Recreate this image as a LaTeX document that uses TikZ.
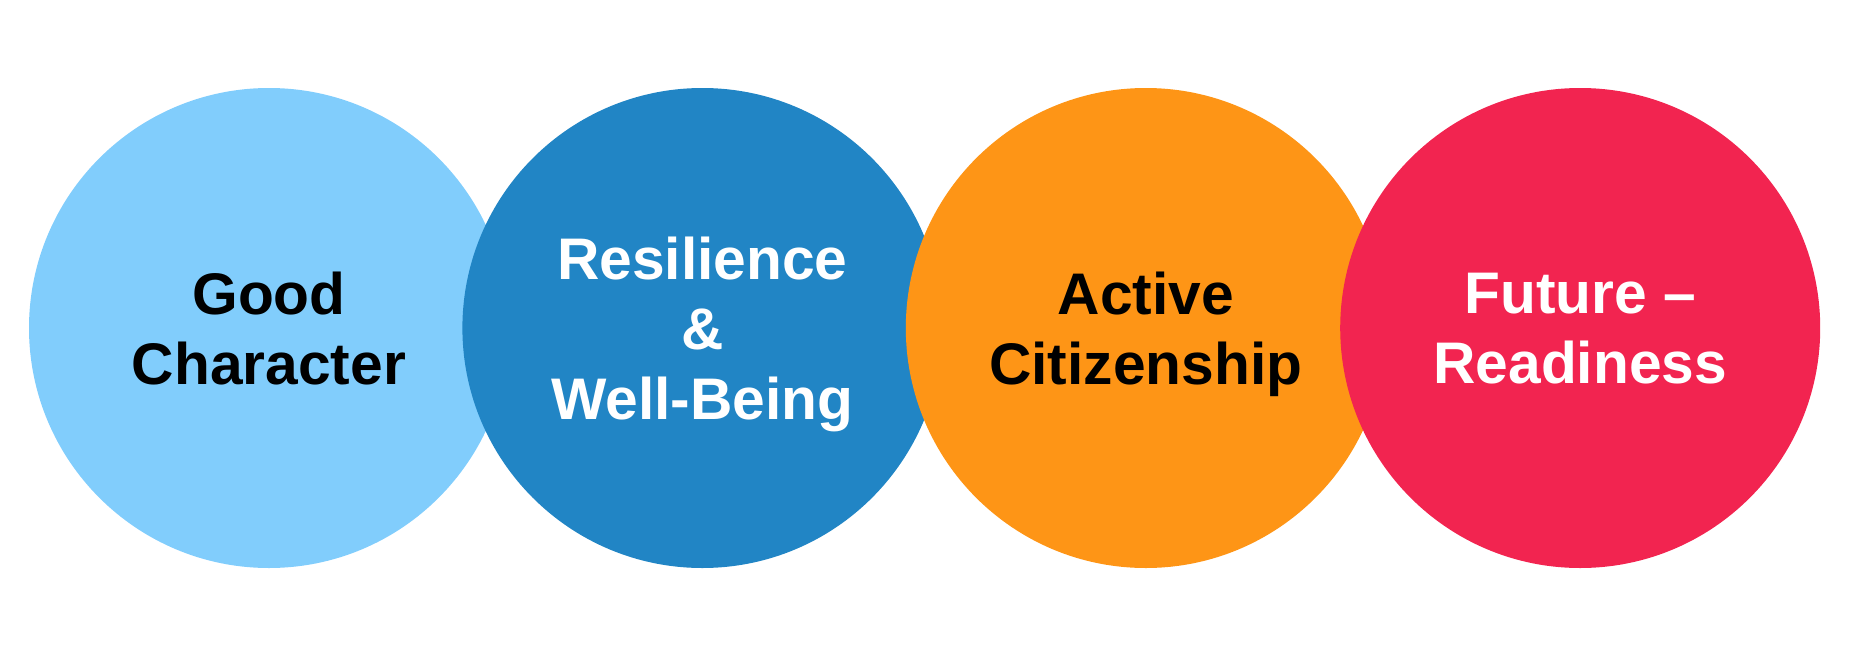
\documentclass[tikz,border=0pt]{standalone}
\usepackage{fontspec}
\setmainfont{Liberation Sans}
\usetikzlibrary{shapes.geometric, positioning}
\usepackage{xcolor}
\definecolor{charblue}{RGB}{129,205,252}
\definecolor{wellblue}{RGB}{33,133,197}
\definecolor{citorange}{RGB}{254,149,22}
\definecolor{futred}{RGB}{242,36,80}
\tikzstyle{pillar} = [%
  circle,
  draw=none,
  minimum size=4.8cm,
  inner sep=0pt,
  align=center,
  text centered,
  text depth=0pt,
  font=\bfseries\fontsize{16.7}{19.9}\selectfont
]

\begin{document}
\begin{tikzpicture}
  \useasboundingbox (0,0) rectangle (18.58,6.63);

  % Pillars
  \node[pillar,fill=charblue,text=black] (P1) at (2.69,3.35) {Good\\Character};
  \node[pillar,fill=wellblue,text=white,right=-0.48cm of P1] (P2) {Resilience\\\&\\Well-Being};
  \node[pillar,fill=citorange,text=black,right=-0.38cm of P2] (P3) {Active\\Citizenship};
  \node[pillar,fill=futred,text=white,right=-0.47cm of P3] (P4) {Future --\\Readiness};

\end{tikzpicture}
\end{document}
